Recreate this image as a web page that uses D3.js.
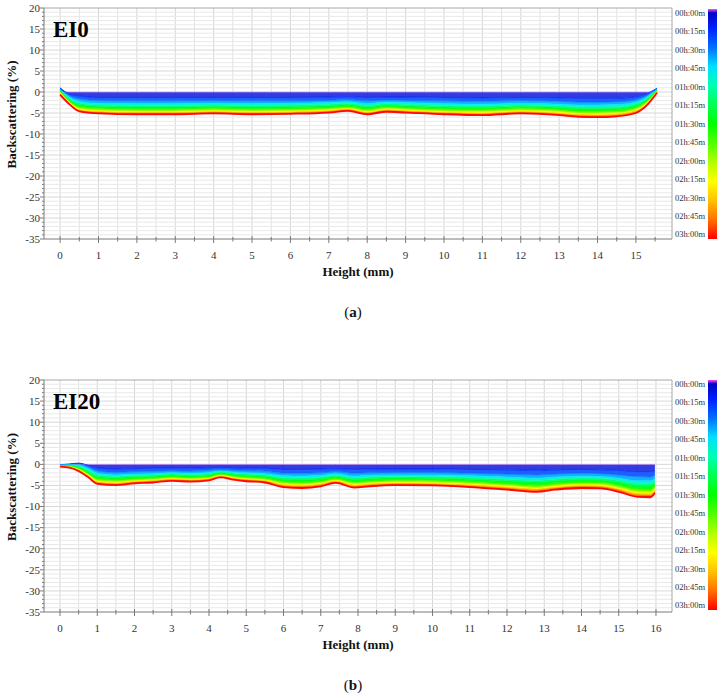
<!DOCTYPE html>
<html><head><meta charset="utf-8">
<script src="https://cdn.jsdelivr.net/npm/d3@7"></script>
<style>body{margin:0;background:#fff}</style>
</head><body>
<svg id="c" width="721" height="698"></svg>
<script>
// ---------- DATA ----------
const timesMin = [0,15,30,45,60,75,90,105,120,135,150,165,180];
const legendLabels = ["00h:00m","00h:15m","00h:30m","00h:45m","01h:00m","01h:15m","01h:30m","01h:45m","02h:00m","02h:15m","02h:30m","02h:45m","03h:00m"];
const yTickValues = [20,15,10,5,0,-5,-10,-15,-20,-25,-30,-35];
const xTicksA = [0,1,2,3,4,5,6,7,8,9,10,11,12,13,14,15];
const xTicksB = [0,1,2,3,4,5,6,7,8,9,10,11,12,13,14,15,16];

// Panel (a) EI0
const heightsA = [0,0.25,0.5,1,2,3,4,5,6,7,7.5,8,8.5,9,10,11,12,13,13.5,14,14.5,15,15.25,15.55];
const A_000 = [0,0,0,0,0,0,0,0,0,0,0,0,0,0,0,0,0,0,0,0,0,0,0,0];
const A_015 = [1.0,-0.5,-0.9,-1.3,-1.3,-1.3,-1.3,-1.3,-1.3,-1.2,-1.1,-1.3,-1.2,-1.2,-1.3,-1.4,-1.3,-1.4,-1.5,-1.5,-1.5,-1.1,-0.5,0.9];
const A_030 = [0.8,-0.9,-1.6,-2.0,-2.1,-2.1,-2.0,-2.1,-2.1,-2.0,-1.8,-2.1,-1.9,-2.0,-2.1,-2.2,-2.0,-2.2,-2.4,-2.4,-2.3,-1.8,-1.0,0.8];
const A_045 = [0.6,-1.3,-2.2,-2.7,-2.8,-2.8,-2.7,-2.8,-2.7,-2.5,-2.3,-2.8,-2.4,-2.5,-2.8,-2.9,-2.7,-2.9,-3.1,-3.1,-3.0,-2.4,-1.4,0.7];
const A_060 = [0.5,-1.6,-2.6,-3.1,-3.2,-3.2,-3.1,-3.2,-3.1,-2.9,-2.7,-3.2,-2.8,-2.9,-3.2,-3.3,-3.1,-3.3,-3.5,-3.6,-3.5,-2.8,-1.7,0.6];
const A_075 = [0.4,-1.9,-3.0,-3.4,-3.6,-3.6,-3.4,-3.6,-3.5,-3.3,-3.0,-3.6,-3.1,-3.3,-3.6,-3.7,-3.4,-3.7,-4.0,-4.0,-3.9,-3.2,-2.0,0.5];
const A_090 = [0.3,-2.1,-3.3,-3.7,-3.9,-3.9,-3.7,-3.9,-3.8,-3.6,-3.3,-3.9,-3.4,-3.6,-3.9,-4.0,-3.7,-4.0,-4.3,-4.4,-4.2,-3.5,-2.3,0.4];
const A_105 = [0.2,-2.3,-3.6,-4.0,-4.2,-4.2,-4.0,-4.2,-4.1,-3.9,-3.6,-4.2,-3.7,-3.9,-4.2,-4.3,-4.0,-4.3,-4.7,-4.7,-4.6,-3.8,-2.5,0.3];
const A_120 = [0.0,-2.5,-3.9,-4.3,-4.5,-4.5,-4.3,-4.5,-4.4,-4.1,-3.8,-4.5,-3.9,-4.1,-4.5,-4.6,-4.3,-4.6,-5.0,-5.0,-4.9,-4.1,-2.8,0.2];
const A_135 = [-0.2,-2.65,-4.1,-4.5,-4.7,-4.7,-4.5,-4.7,-4.6,-4.3,-4.0,-4.7,-4.1,-4.3,-4.7,-4.8,-4.5,-4.8,-5.2,-5.3,-5.1,-4.3,-3.0,0.1];
const A_150 = [-0.3,-2.8,-4.3,-4.7,-4.9,-4.9,-4.7,-4.9,-4.8,-4.5,-4.1,-4.9,-4.3,-4.5,-4.9,-5.1,-4.7,-5.1,-5.4,-5.5,-5.3,-4.5,-3.2,0.0];
const A_165 = [-0.5,-2.9,-4.45,-4.9,-5.1,-5.1,-4.9,-5.1,-5.0,-4.7,-4.3,-5.1,-4.5,-4.7,-5.1,-5.3,-4.9,-5.3,-5.7,-5.8,-5.6,-4.8,-3.35,-0.1];
const A_180 = [-0.7,-3.0,-4.6,-5.1,-5.3,-5.3,-5.1,-5.3,-5.2,-4.9,-4.5,-5.3,-4.7,-4.9,-5.3,-5.5,-5.1,-5.5,-5.9,-6.0,-5.8,-5.0,-3.5,-0.2];
const curvesA = [A_000,A_015,A_030,A_045,A_060,A_075,A_090,A_105,A_120,A_135,A_150,A_165,A_180];

// Panel (b) EI20
const heightsB = [0,0.25,0.5,0.75,1,1.5,2,2.5,3,3.5,4,4.3,4.7,5,5.5,6,6.5,7,7.4,7.9,8.3,9,10,11,12,12.8,13.3,14,14.5,15,15.5,15.85,15.97];
const B_000 = [0,0,0,0,0,0,0,0,0,0,0,0,0,0,0,0,0,0,0,0,0,0,0,0,0,0,0,0,0,0,0,0,0];
const B_015 = [-0.1,0.1,0.3,-0.2,-0.8,-1.1,-1.0,-0.9,-0.9,-0.9,-0.8,-0.7,-0.8,-0.9,-0.9,-1.2,-1.2,-1.1,-1.0,-1.2,-1.1,-1.1,-1.1,-1.2,-1.3,-1.4,-1.3,-1.2,-1.3,-1.4,-1.7,-1.7,-1.5];
const B_030 = [-0.15,0.0,0.1,-0.6,-1.5,-1.9,-1.7,-1.6,-1.5,-1.6,-1.4,-1.2,-1.4,-1.5,-1.6,-2.1,-2.1,-2.0,-1.7,-2.1,-2.0,-1.9,-1.9,-2.1,-2.3,-2.5,-2.3,-2.1,-2.2,-2.5,-2.9,-3.0,-2.6];
const B_045 = [-0.2,-0.1,-0.2,-1.0,-2.1,-2.5,-2.3,-2.2,-2.0,-2.1,-1.9,-1.6,-1.9,-2.0,-2.2,-2.7,-2.8,-2.6,-2.2,-2.8,-2.6,-2.5,-2.5,-2.7,-3.0,-3.3,-3.0,-2.8,-2.9,-3.3,-3.9,-3.9,-3.4];
const B_060 = [-0.25,-0.2,-0.4,-1.4,-2.5,-2.8,-2.6,-2.5,-2.3,-2.4,-2.2,-1.8,-2.1,-2.3,-2.5,-3.1,-3.2,-3.0,-2.6,-3.2,-3.0,-2.8,-2.9,-3.1,-3.5,-3.8,-3.5,-3.2,-3.3,-3.8,-4.5,-4.5,-3.9];
const B_075 = [-0.3,-0.3,-0.6,-1.7,-2.9,-3.2,-2.9,-2.8,-2.5,-2.7,-2.5,-2.0,-2.4,-2.6,-2.8,-3.5,-3.6,-3.4,-2.9,-3.6,-3.4,-3.2,-3.3,-3.5,-3.9,-4.2,-3.9,-3.6,-3.7,-4.2,-5.0,-5.1,-4.4];
const B_090 = [-0.35,-0.4,-0.8,-2.0,-3.2,-3.5,-3.2,-3.1,-2.8,-3.0,-2.7,-2.2,-2.7,-2.9,-3.1,-3.9,-4.0,-3.7,-3.2,-4.0,-3.7,-3.5,-3.6,-3.9,-4.3,-4.7,-4.3,-4.0,-4.1,-4.7,-5.5,-5.6,-4.9];
const B_105 = [-0.4,-0.5,-1.0,-2.2,-3.5,-3.8,-3.5,-3.4,-3.0,-3.2,-3.0,-2.4,-2.9,-3.1,-3.4,-4.2,-4.4,-4.1,-3.4,-4.3,-4.1,-3.8,-3.9,-4.2,-4.7,-5.1,-4.7,-4.4,-4.4,-5.1,-6.0,-6.1,-5.3];
const B_120 = [-0.45,-0.55,-1.15,-2.4,-3.8,-4.1,-3.7,-3.6,-3.2,-3.4,-3.2,-2.6,-3.1,-3.3,-3.6,-4.5,-4.6,-4.3,-3.7,-4.6,-4.3,-4.1,-4.2,-4.5,-5.0,-5.4,-5.0,-4.6,-4.7,-5.4,-6.4,-6.5,-5.6];
const B_135 = [-0.5,-0.6,-1.3,-2.6,-4.0,-4.3,-3.9,-3.7,-3.4,-3.6,-3.3,-2.7,-3.2,-3.5,-3.7,-4.7,-4.9,-4.5,-3.8,-4.8,-4.5,-4.3,-4.4,-4.7,-5.2,-5.7,-5.2,-4.9,-5.0,-5.7,-6.7,-6.8,-5.9];
const B_150 = [-0.5,-0.7,-1.4,-2.75,-4.2,-4.5,-4.1,-3.9,-3.5,-3.7,-3.5,-2.8,-3.4,-3.6,-3.9,-4.9,-5.1,-4.7,-4.0,-5.0,-4.7,-4.5,-4.6,-4.9,-5.5,-5.9,-5.5,-5.1,-5.2,-5.9,-7.0,-7.1,-6.2];
const B_165 = [-0.55,-0.75,-1.5,-2.9,-4.4,-4.7,-4.3,-4.1,-3.7,-3.9,-3.6,-3.0,-3.5,-3.8,-4.1,-5.2,-5.3,-5.0,-4.2,-5.3,-5.0,-4.7,-4.8,-5.2,-5.7,-6.2,-5.7,-5.3,-5.4,-6.2,-7.4,-7.4,-6.5];
const B_180 = [-0.55,-0.8,-1.6,-3.0,-4.6,-4.9,-4.5,-4.3,-3.9,-4.1,-3.8,-3.1,-3.7,-4.0,-4.3,-5.4,-5.6,-5.2,-4.4,-5.5,-5.2,-4.9,-5.0,-5.4,-6.0,-6.5,-6.0,-5.6,-5.7,-6.5,-7.7,-7.8,-6.8];
const curvesB = [B_000,B_015,B_030,B_045,B_060,B_075,B_090,B_105,B_120,B_135,B_150,B_165,B_180];

// ---------- STYLE / COLOR ----------
const timeColor = d3.scaleLinear()
  .domain([0,2,15,30,45,60,75,90,105,120,135,150,165,180])
  .range(["#ff50ff","#0000c0","#0020ff","#0070ff","#00e0ff","#00ffb0","#00ff50","#00ff00","#50ff00","#b0ff00","#ffff00","#ffc000","#ff7000","#ff0000"])
  .interpolate(d3.interpolateRgb);

const svg = d3.select("#c");
const defs = svg.append("defs");
const grad = defs.append("linearGradient").attr("id","cbar").attr("x1",0).attr("y1",0).attr("x2",0).attr("y2",1);
d3.range(0,181,3).forEach(t => grad.append("stop").attr("offset", t/180).attr("stop-color", timeColor(t)));

const serif = "'Liberation Serif','Times New Roman',serif";

const panels = [
  {name:"EI0", letter:"a", top:8, bottom:239, xDomain:[-0.42,15.94], xTicks:xTicksA, maxTick:15.5,
   heights:heightsA, curves:curvesA, barTop:9, barBottom:239, xLabY:276, letterY:317},
  {name:"EI20", letter:"b", top:380, bottom:612, xDomain:[-0.43,16.43], xTicks:xTicksB, maxTick:16,
   heights:heightsB, curves:curvesB, barTop:380, barBottom:610, xLabY:649, letterY:690}
];

const L = 44, R = 672;
const bandOpacity = [0.8, 0.88, 0.92, 0.95, 1, 1, 1, 1, 1, 1, 1, 1];

panels.forEach((p, pi) => {
  const g = svg.append("g");
  const x = d3.scaleLinear().domain(p.xDomain).range([L, R]);
  const y = d3.scaleLinear().domain([-35, 20]).range([p.bottom, p.top]);

  // grid
  const vgrid = d3.range(0, p.maxTick + 0.01, 0.5);
  g.append("g").selectAll("line").data(vgrid).join("line")
    .attr("x1", d => x(d)).attr("x2", d => x(d)).attr("y1", p.top).attr("y2", p.bottom)
    .attr("stroke", d => Number.isInteger(d) ? "#d6d6d6" : "#e2e2e2").attr("stroke-width", 1);
  const hgrid = d3.range(-34, 20, 1);
  g.append("g").selectAll("line").data(hgrid).join("line")
    .attr("x1", L).attr("x2", R).attr("y1", d => y(d)).attr("y2", d => y(d))
    .attr("stroke", d => d % 5 === 0 ? "#d8d8d8" : "#e9e9e9").attr("stroke-width", 1);

  // curves
  const clipId = "clip" + pi;
  defs.append("clipPath").attr("id", clipId).append("rect")
    .attr("x", L).attr("y", p.top).attr("width", R - L).attr("height", p.bottom - p.top);
  const cg = g.append("g").attr("clip-path", `url(#${clipId})`);
  const pts = arr => arr.map((v, i) => [p.heights[i], v]);
  const area = d3.area().x(d => x(d[0])).y0(d => y(d[1])).y1(d => y(d[2])).curve(d3.curveMonotoneX);
  const line = d3.line().x(d => x(d[0])).y(d => y(d[1])).curve(d3.curveMonotoneX);
  for (let k = 0; k < p.curves.length - 1; k++) {
    const a = p.curves[k], b = p.curves[k + 1];
    const band = a.map((v, i) => [p.heights[i], v, b[i]]);
    cg.append("path").attr("d", area(band))
      .attr("fill", timeColor((timesMin[k] + timesMin[k + 1]) / 2))
      .attr("fill-opacity", bandOpacity[k]).attr("stroke", "none");
  }
  p.curves.forEach((c, k) => {
    cg.append("path").attr("d", line(pts(c))).attr("fill", "none")
      .attr("stroke", k === 0 ? "#d8a0f0" : timeColor(timesMin[k]))
      .attr("stroke-width", k === p.curves.length - 1 ? 1.8 : 0.8)
      .attr("stroke-opacity", 0.95);
  });

  // frame
  g.append("line").attr("x1", L).attr("x2", R).attr("y1", p.top).attr("y2", p.top).attr("stroke", "#a8a8a8");
  g.append("line").attr("x1", R).attr("x2", R).attr("y1", p.top).attr("y2", p.bottom).attr("stroke", "#a8a8a8");
  g.append("line").attr("x1", L).attr("x2", L).attr("y1", p.top).attr("y2", p.bottom).attr("stroke", "#7a7a7a");
  g.append("line").attr("x1", L).attr("x2", R).attr("y1", p.bottom).attr("y2", p.bottom).attr("stroke", "#7a7a7a");

  // y ticks
  const yMinor = d3.range(-35, 21, 1);
  g.append("g").selectAll("line").data(yMinor).join("line")
    .attr("x1", d => d % 5 === 0 ? L - 4 : L - 2).attr("x2", L)
    .attr("y1", d => y(d)).attr("y2", d => y(d)).attr("stroke", "#7a7a7a");
  g.append("g").selectAll("text").data(yTickValues).join("text")
    .attr("x", L - 4).attr("y", d => y(d)).attr("dy", "0.35em").attr("text-anchor", "end")
    .attr("font-family", serif).attr("font-size", 11).attr("fill", "#333")
    .text(d => d);

  // x ticks
  const xMinor = d3.range(0.5, p.maxTick + 0.01, 1);
  g.append("g").selectAll("line").data(xMinor).join("line")
    .attr("x1", d => x(d)).attr("x2", d => x(d)).attr("y1", p.bottom - 2).attr("y2", p.bottom + 2.5)
    .attr("stroke", "#7a7a7a");
  g.append("g").selectAll("line").data(p.xTicks).join("line")
    .attr("x1", d => x(d)).attr("x2", d => x(d)).attr("y1", p.bottom - 3).attr("y2", p.bottom + 4)
    .attr("stroke", "#7a7a7a");
  g.append("g").selectAll("text").data(p.xTicks).join("text")
    .attr("x", d => x(d)).attr("y", p.bottom + 19.5).attr("text-anchor", "middle")
    .attr("font-family", serif).attr("font-size", 11).attr("fill", "#333")
    .text(d => d);

  // axis titles
  g.append("text").attr("x", 358).attr("y", p.xLabY).attr("text-anchor", "middle")
    .attr("font-family", serif).attr("font-size", 13).attr("font-weight", "bold").attr("fill", "#111")
    .text("Height (mm)");
  const yc = (p.top + p.bottom) / 2 - 9;
  g.append("text").attr("transform", `translate(16,${yc}) rotate(-90)`).attr("text-anchor", "middle")
    .attr("font-family", serif).attr("font-size", 13).attr("font-weight", "bold").attr("fill", "#111")
    .text("Backscattering (%)");

  // sample name
  g.append("text").attr("x", 53).attr("y", p.top + 28.5)
    .attr("font-family", serif).attr("font-size", 23).attr("font-weight", "bold").attr("fill", "#000")
    .text(p.name);

  // color bar
  g.append("rect").attr("x", 708).attr("y", p.barTop).attr("width", 9).attr("height", p.barBottom - p.barTop)
    .attr("fill", "url(#cbar)");
  const lt = p.barTop + 4, lb = p.barBottom - 4.5;
  g.append("g").selectAll("text").data(legendLabels).join("text")
    .attr("x", 675).attr("y", (d, i) => lt + i * (lb - lt) / 12).attr("dy", "0.35em")
    .attr("font-family", serif).attr("font-size", 8.5).attr("fill", "#333")
    .text(d => d);

  // panel letter
  const lg = g.append("text").attr("x", 353).attr("y", p.letterY).attr("text-anchor", "middle")
    .attr("font-family", serif).attr("font-size", 15).attr("fill", "#111");
  lg.append("tspan").text("(");
  lg.append("tspan").attr("font-weight", "bold").text(p.letter);
  lg.append("tspan").text(")");
});
</script>
</body></html>
